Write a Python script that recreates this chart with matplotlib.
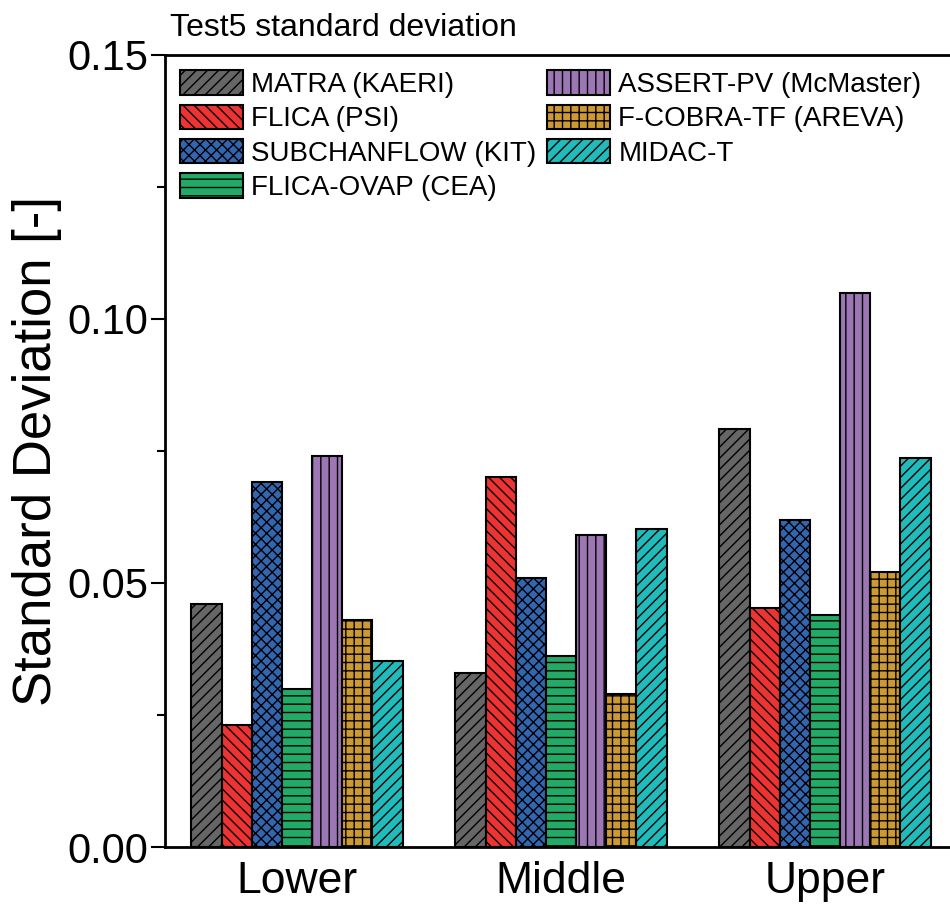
import numpy as np
import matplotlib
matplotlib.use("Agg")
import matplotlib.pyplot as plt
from matplotlib.ticker import MultipleLocator, FormatStrFormatter

plt.rcParams["font.family"] = ["Liberation Sans", "DejaVu Sans"]
plt.rcParams["hatch.linewidth"] = 1.0

# standard deviation per code and axial region
regions = ["Lower", "Middle", "Upper"]
codes = ["MATRA (KAERI)", "FLICA (PSI)", "SUBCHANFLOW (KIT)", "FLICA-OVAP (CEA)",
         "ASSERT-PV (McMaster)", "F-COBRA-TF (AREVA)", "MIDAC-T"]
matra = [0.0461, 0.0330, 0.0791]
flica = [0.0231, 0.0700, 0.0452]
subchanflow = [0.0691, 0.0510, 0.0620]
flica_ovap = [0.0300, 0.0361, 0.0440]
assert_pv = [0.0740, 0.0590, 0.1050]
f_cobra = [0.0429, 0.0290, 0.0520]
midac = [0.0353, 0.0602, 0.0737]

series = [matra, flica, subchanflow, flica_ovap, assert_pv, f_cobra, midac]
colors = ["#666666", "#ee3333", "#3366b0", "#22aa66", "#9c77b4", "#cc9933", "#22bbbb"]
hatches = ["///", "\\\\\\", "xxx", "--", "||", "++", "///"]

fig = plt.figure(figsize=(9.5, 9.05), dpi=100)
ax = fig.add_axes([165 / 950, 1 - 847 / 905, 792 / 950, 792 / 905])

x = np.arange(1, len(regions) + 1)
w = 0.8 / len(series)
for i, vals in enumerate(series):
    ax.bar(x + (i - 3) * w, vals, w, color=colors[i], edgecolor="black",
           linewidth=1.5, hatch=hatches[i], label=codes[i])

ax.set_xlim(0.5, 3.5)
ax.set_ylim(0, 0.15)
ax.set_xticks(x)
ax.set_xticklabels(regions)
ax.yaxis.set_major_locator(MultipleLocator(0.05))
ax.yaxis.set_minor_locator(MultipleLocator(0.025))
ax.yaxis.set_major_formatter(FormatStrFormatter("%.2f"))
ax.tick_params(axis="x", length=0, labelsize=32, pad=10)
ax.tick_params(axis="y", which="major", direction="out", length=10, width=1.5,
               labelsize=30, pad=2, right=True)
ax.tick_params(axis="y", which="minor", direction="out", length=6, width=1.5, right=True)
for s in ax.spines.values():
    s.set_linewidth(2)
ax.set_ylabel("Standard Deviation [-]", fontsize=38, labelpad=4)

ax.legend(loc="upper left", ncol=2, frameon=False, fontsize=20,
          handlelength=2.25, handleheight=0.97, labelspacing=0.24,
          handletextpad=0.3, columnspacing=0.4, borderaxespad=0.2, borderpad=0.35)

fig.text(170 / 950, 1 - 28 / 905, "Test5 standard deviation", fontsize=23, va="center")

fig.savefig("out.png", dpi=100)
